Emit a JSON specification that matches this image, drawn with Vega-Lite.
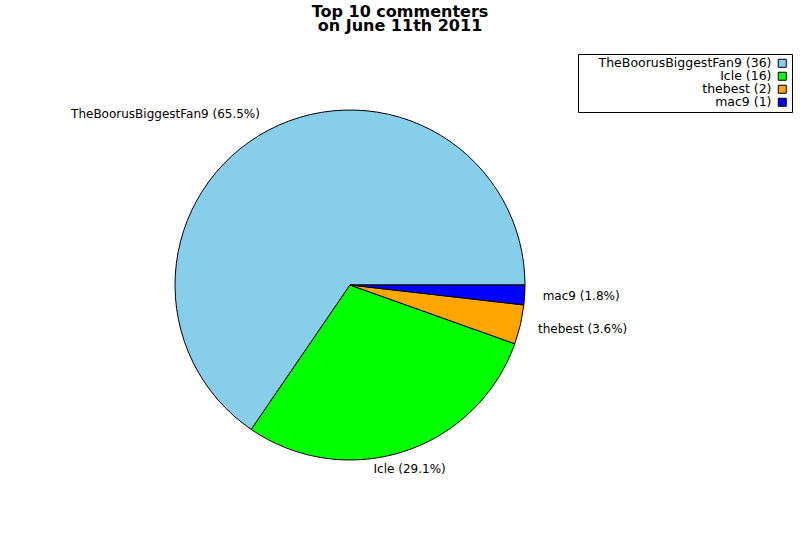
{
  "$schema": "https://vega.github.io/schema/vega-lite/v6.json",
  "autosize": {"type": "none"},
  "width": 350,
  "height": 350,
  "padding": {"left": 175, "top": 110, "right": 275, "bottom": 80},
  "background": "white",
  "config": {"view": {"stroke": null}, "font": "DejaVu Sans"},
  "title": {
    "text": ["Top 10 commenters", "on June 11th 2011"],
    "font": "DejaVu Sans",
    "fontSize": 16,
    "fontWeight": "bold",
    "color": "black",
    "anchor": "middle",
    "frame": "group",
    "baseline": "top",
    "lineHeight": 14,
    "dx": 50,
    "offset": 20
  },
  "data": {
    "values": [
      {"name": "TheBoorusBiggestFan9", "n": 36},
      {"name": "Icle", "n": 16},
      {"name": "thebest", "n": 2},
      {"name": "mac9", "n": 1}
    ]
  },
  "transform": [
    {"joinaggregate": [{"op": "sum", "field": "n", "as": "total"}]},
    {"stack": "n", "groupby": [], "sort": [{"field": "n", "order": "ascending"}], "as": ["t0", "t1"]},
    {"calculate": "(datum.t0 + datum.t1) / 2", "as": "mid"},
    {"calculate": "datum.mid / datum.total", "as": "f"},
    {"calculate": "datum.name + ' (' + format(datum.n / datum.total * 100, '.1f') + '%)'", "as": "pie_label"},
    {"calculate": "datum.name + ' (' + datum.n + ')'", "as": "legend_label"}
  ],
  "encoding": {
    "theta": {"field": "mid", "type": "quantitative", "scale": {"domain": [0, 55], "range": [1.5707963, 7.8539816]}}
  },
  "layer": [
    {
      "mark": {"type": "arc", "stroke": "black", "strokeWidth": 1},
      "encoding": {
        "theta": {"field": "t0", "type": "quantitative", "stack": null},
        "theta2": {"field": "t1"},
        "color": {
          "field": "legend_label",
          "type": "nominal",
          "sort": {"field": "n", "order": "descending"},
          "scale": {"range": ["#87ceeb", "#00ff00", "#ffa500", "#0000ff"]},
          "legend": {
            "title": null,
            "orient": "none",
            "legendX": 403,
            "legendY": -56,
            "strokeColor": "black",
            "fillColor": "white",
            "padding": 3,
            "symbolType": "square",
            "symbolSize": 64,
            "symbolStrokeColor": "black",
            "symbolStrokeWidth": 1,
            "symbolOpacity": 1,
            "symbolOffset": 195,
            "labelAlign": "right",
            "labelOffset": -17,
            "labelFont": "DejaVu Sans",
            "labelFontSize": 12.5,
            "labelColor": "black",
            "labelLimit": 0,
            "rowPadding": 0
          }
        }
      }
    },
    {
      "transform": [{"filter": "datum.f < 0.15 || datum.f > 0.85"}],
      "mark": {"type": "text", "radius": 193, "align": "left", "baseline": "middle", "fontSize": 12, "color": "black"},
      "encoding": {"text": {"field": "pie_label"}}
    },
    {
      "transform": [{"filter": "datum.f >= 0.15 && datum.f < 0.35"}],
      "mark": {"type": "text", "radius": 193, "align": "center", "baseline": "middle", "fontSize": 12, "color": "black"},
      "encoding": {"text": {"field": "pie_label"}}
    },
    {
      "transform": [{"filter": "datum.f >= 0.35 && datum.f <= 0.85"}],
      "mark": {"type": "text", "radius": 193, "align": "right", "baseline": "middle", "fontSize": 12, "color": "black"},
      "encoding": {"text": {"field": "pie_label"}}
    }
  ]
}
